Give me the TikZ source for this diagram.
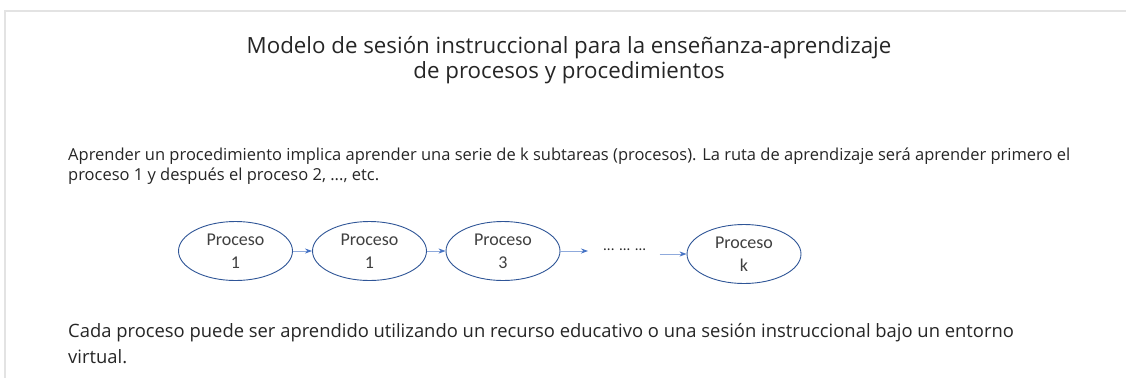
\documentclass[tikz,border=0pt]{standalone}
\usepackage{fontspec}
\setmainfont{Carlito}
\newfontfamily\bodyfont{Open Sans}
\usetikzlibrary{shapes.geometric,arrows.meta}
\definecolor{txt}{HTML}{262626}
\definecolor{proctxt}{HTML}{404040}
\definecolor{ellline}{HTML}{2F5597}
\definecolor{arrline}{HTML}{8FAADC}
\definecolor{arrtip}{HTML}{4472C4}
\definecolor{frame}{HTML}{E3E3E3}
\tikzset{
  proc/.style={ellipse, draw=ellline, line width=0.9pt, minimum width=114pt, minimum height=59pt, inner sep=0pt,
    align=center, text=proctxt, font=\fontsize{18}{23}\selectfont},
  link/.style={draw=arrline, line width=0.8pt, -{Stealth[length=7pt,width=5pt,color=arrtip]}},
  para/.style={anchor=base west, align=left, inner sep=0pt, text=txt}
}
\begin{document}
\begin{tikzpicture}[x=1pt,y=-1pt]
\useasboundingbox (0,0) rectangle (1126,378);
\fill[white] (0,0) rectangle (1126,378);
\draw[frame, line width=2pt] (5,378) -- (5,11) -- (1126,11);
\node[anchor=center, align=center, text=txt, font=\bodyfont\fontsize{22.3}{25}\selectfont, inner sep=0pt] (title) at (569,60)
  {Modelo de sesión instruccional para la enseñanza-aprendizaje\\de procesos y procedimientos};
\node[para, font=\bodyfont\fontsize{16.5}{20}\selectfont] (p1) at (68,180)
  {Aprender un procedimiento implica aprender una serie de k subtareas (procesos). La ruta de aprendizaje será aprender primero el\\proceso 1 y después el proceso 2, ..., etc.};
\node[proc] (e1) at (235.5,251) {Proceso\\1};
\node[proc] (e2) at (369.5,251) {Proceso\\1};
\node[proc] (e3) at (503,251) {Proceso\\3};
\node[anchor=west, inner sep=0pt, text=txt, font=\fontsize{15}{18}\selectfont] (dots) at (603,250) {... ... ...};
\node[proc] (ek) at (744,254) {Proceso\\k};
\draw[link] (e1.east) -- (e2.west);
\draw[link] (e2.east) -- (e3.west);
\draw[link, shorten >=15pt] (e3.east) -- (e3.east -| dots.west);
\draw[link, shorten <=13pt] (dots.east |- ek.west) -- (ek.west);
\node[para, font=\bodyfont\fontsize{18.4}{26}\selectfont] (p2) at (68,363)
  {Cada proceso puede ser aprendido utilizando un recurso educativo o una sesión instruccional bajo un entorno\\virtual.};
\end{tikzpicture}
\end{document}
